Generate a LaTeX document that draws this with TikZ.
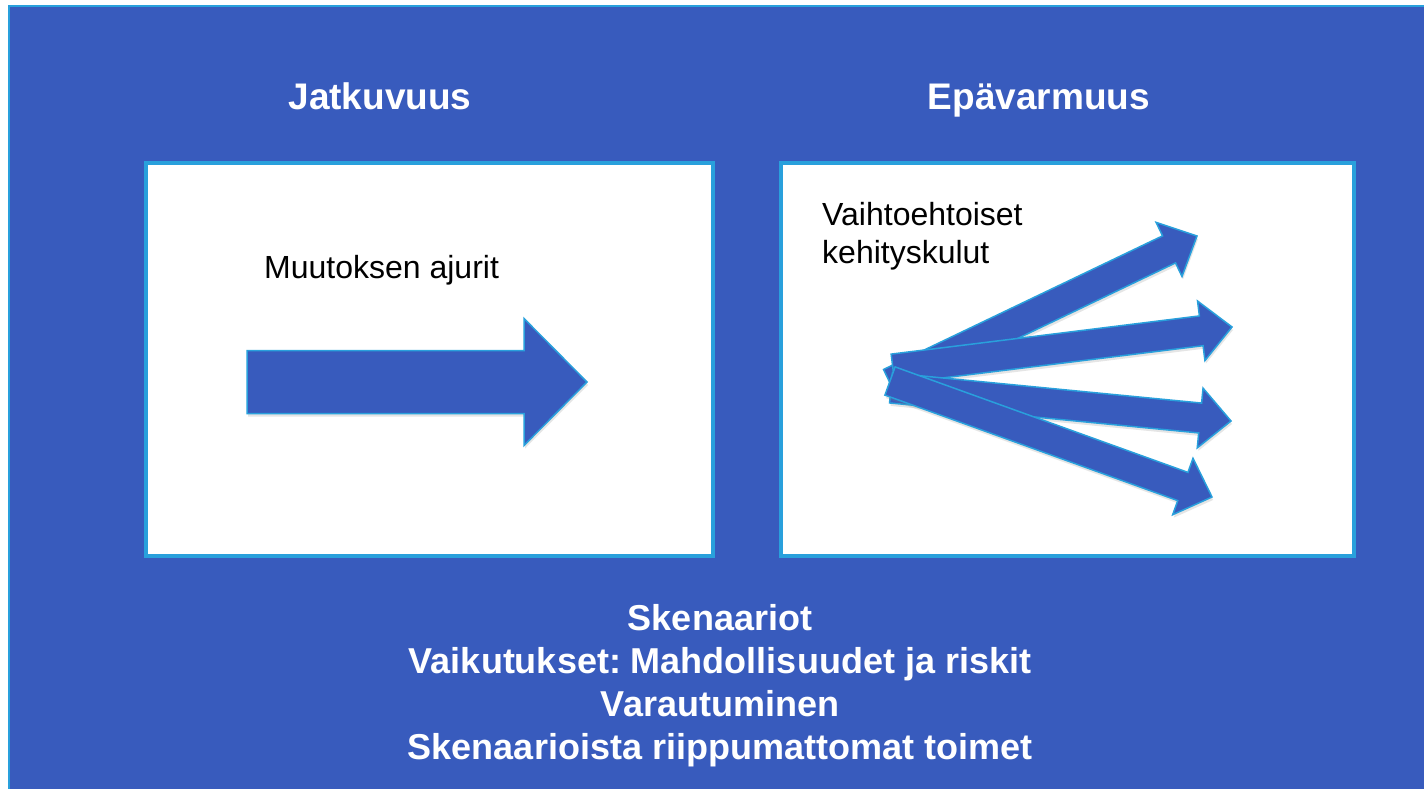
\documentclass[tikz,border=0pt]{standalone}
\usepackage{fontspec}
\setmainfont{Liberation Sans}
\usetikzlibrary{calc}
\usetikzlibrary{shadows}
\usetikzlibrary{positioning}
\frenchspacing
\definecolor{slideblue}{RGB}{56,91,189}
\definecolor{edgeblue}{RGB}{41,160,220}
\tikzset{slidebg/.style={fill=slideblue,draw=edgeblue,line width=2.5pt}}
\tikzset{title/.style={text=white,font=\bfseries\fontsize{37}{44}\selectfont,inner sep=0pt}}
\tikzset{panel/.style={draw=edgeblue,line width=4pt,fill=white,inner sep=0pt}}
\tikzset{caption/.style={text=black,font=\fontsize{32}{38}\selectfont,inner sep=0pt,align=left}}
\tikzset{summary/.style={text=white,font=\bfseries\fontsize{36}{43}\selectfont,inner sep=0pt,align=center}}
\tikzset{blockfill/.style={fill=slideblue,draw=edgeblue,line width=1.5pt,
    drop shadow={opacity=0.2,shadow xshift=1pt,shadow yshift=-3pt}}}
\newcommand{\blockarrow}[5]{
    \coordinate (hb) at ($(#5)!#3!(#4)$);
    \draw[blockfill] ($(#4)!#1!90:(#5)$) -- ($(hb)!#1!90:(#5)$) -- ($(hb)!#2!90:(#5)$) -- (#5)
        -- ($(hb)!#2!-90:(#5)$) -- ($(hb)!#1!-90:(#5)$) -- ($(#4)!#1!-90:(#5)$) -- cycle;
}
\begin{document}
\begin{tikzpicture}[x=1pt,y=-1pt]
        \useasboundingbox (0,0) rectangle (1424,789);
        \draw[slidebg] (9,6) rectangle (1440,800);

        \node[title,anchor=base] (jat) at (380,110) {Jatkuvuus};
        \node[title,anchor=base] (epa) at (1039,110) {Epävarmuus};

        \node[panel,minimum width=567pt,minimum height=393pt] (leftbox) at (429,359.5) {};
        \node[panel,minimum width=573pt,minimum height=393pt] (rightbox) at (1067.5,359.5) {};

        \node[caption,anchor=base west] (drv) at (264,278) {Muutoksen ajurit};
        \node[caption,anchor=north west] (alt) at (822,202)
            {Vaihtoehtoiset\\kehityskulut};

        \coordinate (ls) at (247,382);
        \coordinate (lt) at (587,382);
        \blockarrow{31.5pt}{63.5pt}{63pt}{ls}{lt}

        \coordinate (r1s) at (890,383);
        \coordinate (r1t) at (1197,236);
        \coordinate (r2s) at (893,369);
        \coordinate (r2t) at (1232,327);
        \coordinate (r3s) at (891,388);
        \coordinate (r3t) at (1231,421);
        \coordinate (r4s) at (890,381);
        \coordinate (r4t) at (1212,497);
        \blockarrow{15pt}{30pt}{31pt}{r1s}{r1t}
        \blockarrow{15pt}{30pt}{31pt}{r2s}{r2t}
        \blockarrow{15pt}{30pt}{31pt}{r3s}{r3t}
        \blockarrow{15pt}{30pt}{31pt}{r4s}{r4t}

        \node[summary,anchor=north] (sum) at (720,604)
            {Skenaariot\\
            Vaikutukset: Mahdollisuudet ja riskit\\
            Varautuminen\\
            Skenaarioista riippumattomat toimet};
    \end{tikzpicture}
\end{document}
